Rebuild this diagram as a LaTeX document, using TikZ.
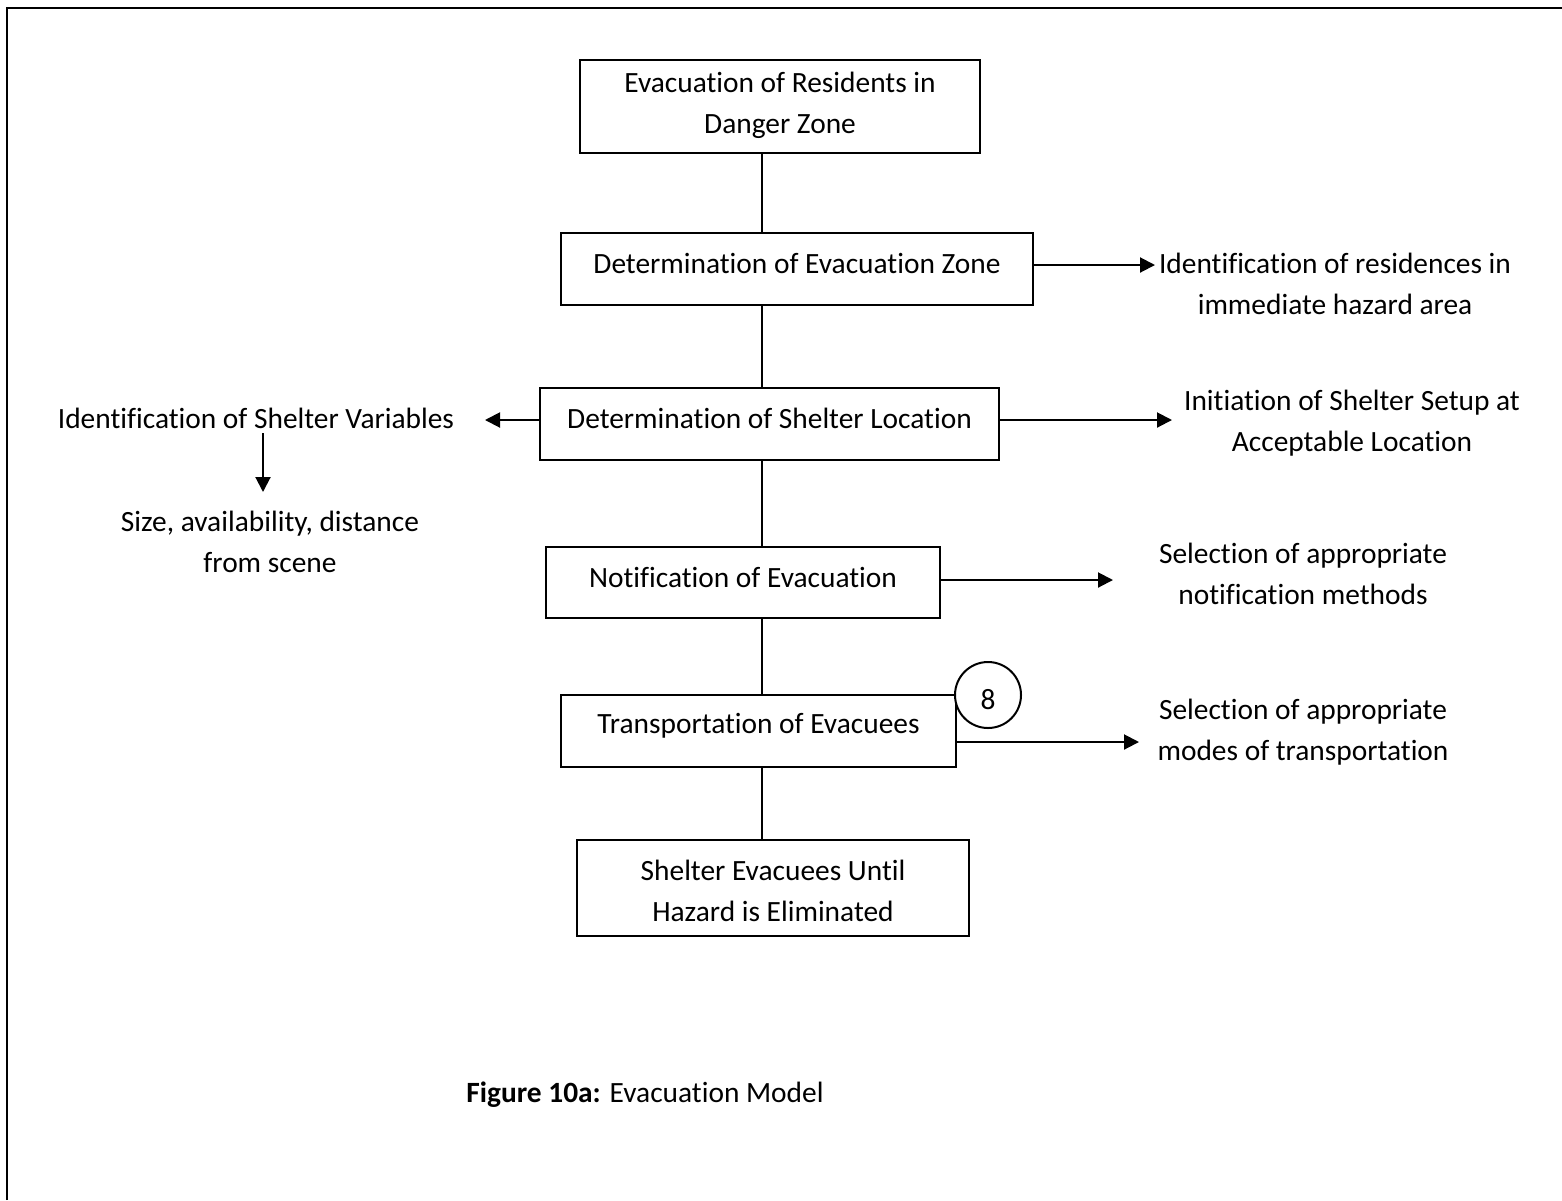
\documentclass[tikz,border=0pt]{standalone}
\usepackage{fontspec}
\setmainfont{Carlito}[Ligatures=NoCommon]
\usetikzlibrary{arrows.meta}
\begin{document}
\begin{tikzpicture}[x=0.5pt,y=-0.5pt,
  every node/.style={font=\fontsize{14.7}{20.5}\selectfont, align=center, inner sep=0pt},
  stepbox/.style={draw, line width=1pt, minimum width=#1},
  link/.style={line width=1pt},
  arr/.style={line width=1pt, -{Triangle[length=7.5pt,width=7.5pt]}}]
  \useasboundingbox (0,0) rectangle (1562,1200);
  % page frame (only top and left edges show)
  \draw[line width=1.2pt] (7,1200) -- (7,8) -- (1562,8);

  % main chain of steps
  \node[stepbox=200pt, minimum height=46.5pt,
        label={[yshift=0.5pt]center:{Evacuation of Residents in\\Danger Zone}}] (b1) at (780,106.5) {};
  \node[stepbox=236pt, minimum height=36pt,
        label={[yshift=2.75pt]center:Determination of Evacuation Zone}] (b2) at (797,269) {};
  \node[stepbox=229.5pt, minimum height=36pt,
        label={[yshift=2.75pt]center:Determination of Shelter Location}] (b3) at (769.5,424) {};
  \node[stepbox=197pt, minimum height=35.5pt,
        label={[yshift=2.75pt]center:Notification of Evacuation}] (b4) at (743,582.5) {};
  \node[stepbox=197.5pt, minimum height=36pt,
        label={[yshift=2.75pt]center:Transportation of Evacuees}] (b5) at (758.5,731) {};
  \node[stepbox=196pt, minimum height=48pt,
        label={[yshift=-1.5pt]center:{Shelter Evacuees Until\\Hazard is Eliminated}}] (b6) at (773,888) {};
  \node[draw, circle, line width=1pt, fill=white, minimum size=33pt,
        label={[yshift=-2.5pt]center:8}] (n8) at (988,695) {};

  % side notes
  \node (r1) at (1335,284) {Identification of residences in\\immediate hazard area};
  \node (r2) at (1352,423.5) {Initiation of Shelter Setup at\\Acceptable Location};
  \node (l1) at (256,418) {Identification of Shelter Variables};
  \node (l2) at (270,542) {Size, availability, distance\\from scene};
  \node (r3) at (1303,574) {Selection of appropriate\\notification methods};
  \node (r4) at (1303,732) {Selection of appropriate\\modes of transportation};

  \node[anchor=west] (cap) at (466,1095) {\textbf{Figure 10a:} Evacuation Model};

  % spine joining the steps
  \coordinate (spine) at (762,0);
  \draw[link] (b1.south -| spine) -- (b2.north -| spine);
  \draw[link] (b2.south -| spine) -- (b3.north -| spine);
  \draw[link] (b3.south -| spine) -- (b4.north -| spine);
  \draw[link] (b4.south -| spine) -- (b5.north -| spine);
  \draw[link] (b5.south -| spine) -- (b6.north -| spine);

  % arrow ends
  \coordinate (t1) at (1155,265);
  \coordinate (t2) at (1172,420);
  \coordinate (t3) at (485,420);
  \coordinate (t4) at (263,492);
  \coordinate (s4) at (263,433);
  \coordinate (t5) at (1113,580);
  \coordinate (t6) at (1139,742);

  \draw[arr] (b2.east |- t1) -- (t1);
  \draw[arr] (b3.east |- t2) -- (t2);
  \draw[arr] (b3.west |- t3) -- (t3);
  \draw[arr] (s4) -- (t4);
  \draw[arr] (b4.east |- t5) -- (t5);
  \draw[arr] (b5.east |- t6) -- (t6);
\end{tikzpicture}
\end{document}
